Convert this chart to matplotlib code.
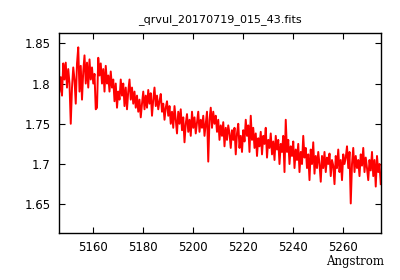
import numpy as np
import matplotlib
matplotlib.use("Agg")
import matplotlib.pyplot as plt

# spectrum sampled every 0.5 Angstrom starting at 5146.5
WAVE_START = 5146.5
WAVE_STEP = 0.5
flux = [
    1.79, 1.808, 1.785, 1.825, 1.805, 1.826, 1.795, 1.818, 1.80, 1.75,
    1.795, 1.82, 1.805, 1.775, 1.825, 1.845, 1.79, 1.822, 1.78, 1.815,
    1.835, 1.80, 1.826, 1.795, 1.83, 1.805, 1.82, 1.80, 1.812, 1.768,
    1.77, 1.832, 1.81, 1.825, 1.80, 1.818, 1.79, 1.822, 1.80, 1.81,
    1.79, 1.815, 1.795, 1.805, 1.778, 1.80, 1.77, 1.79, 1.78, 1.805,
    1.785, 1.80, 1.772, 1.795, 1.768, 1.79, 1.805, 1.78, 1.795, 1.775,
    1.79, 1.77, 1.785, 1.765, 1.78, 1.758, 1.775, 1.79, 1.768, 1.785,
    1.77, 1.792, 1.775, 1.788, 1.76, 1.78, 1.795, 1.772, 1.785, 1.768,
    1.778, 1.787, 1.765, 1.775, 1.755, 1.77, 1.778, 1.76, 1.772, 1.75,
    1.765, 1.745, 1.772, 1.755, 1.738, 1.765, 1.75, 1.768, 1.742, 1.758,
    1.727, 1.75, 1.762, 1.74, 1.755, 1.735, 1.765, 1.745, 1.758, 1.738,
    1.752, 1.765, 1.74, 1.755, 1.745, 1.76, 1.735, 1.75, 1.765, 1.703,
    1.755, 1.77, 1.745, 1.765, 1.75, 1.76, 1.74, 1.755, 1.73, 1.748,
    1.735, 1.752, 1.722, 1.745, 1.73, 1.748, 1.738, 1.72, 1.742, 1.73,
    1.745, 1.712, 1.738, 1.75, 1.72, 1.735, 1.715, 1.742, 1.728, 1.755,
    1.735, 1.748, 1.715, 1.76, 1.73, 1.745, 1.72, 1.738, 1.71, 1.732,
    1.722, 1.74, 1.712, 1.735, 1.725, 1.745, 1.708, 1.73, 1.72, 1.738,
    1.712, 1.728, 1.705, 1.735, 1.718, 1.73, 1.70, 1.725, 1.715, 1.735,
    1.69, 1.755, 1.715, 1.73, 1.70, 1.722, 1.71, 1.728, 1.695, 1.718,
    1.705, 1.725, 1.69, 1.715, 1.70, 1.735, 1.708, 1.72, 1.695, 1.712,
    1.68, 1.718, 1.70, 1.727, 1.688, 1.71, 1.695, 1.715, 1.70, 1.678,
    1.71, 1.695, 1.715, 1.69, 1.708, 1.70, 1.713, 1.685, 1.705, 1.698,
    1.675, 1.71, 1.695, 1.718, 1.69, 1.705, 1.68, 1.712, 1.70, 1.708,
    1.722, 1.695, 1.715, 1.651, 1.70, 1.72, 1.69, 1.71, 1.695, 1.705,
    1.685, 1.712, 1.698, 1.72, 1.69, 1.708, 1.695, 1.68, 1.705, 1.692,
    1.715, 1.685, 1.705, 1.672, 1.71, 1.69, 1.70, 1.675,
]
wave = WAVE_START + WAVE_STEP * np.arange(len(flux))

xticks = [5160, 5180, 5200, 5220, 5240, 5260]
yticks = [1.65, 1.7, 1.75, 1.8, 1.85]
ytick_labels = ["1.65", "1.7", "1.75", "1.8", "1.85"]

fig = plt.figure(figsize=(4, 2.8), dpi=100)
ax = fig.add_axes([59/400, 1 - 233/280, 322/400, 200/280])

ax.plot(wave, flux, color='red', lw=1.4)
ax.set_xlim(5146.3, 5275.1)
ax.set_ylim(1.6143, 1.8628)
ax.set_xticks(xticks)
ax.set_yticks(yticks)
ax.set_yticklabels(ytick_labels)
ax.tick_params(direction='in', length=4, width=0.8, top=True, right=True,
               labelsize=8.5, pad=6, colors='black')
for s in ax.spines.values():
    s.set_linewidth(1.0)

ax.set_title("_qrvul_20170719_015_43.fits", fontsize=8, pad=8)
fig.text(384/400, 1 - 262/280, "Angstrom", family='DejaVu Serif',
         fontsize=8.5, ha='right', va='center')

fig.savefig("out.png", dpi=100)
